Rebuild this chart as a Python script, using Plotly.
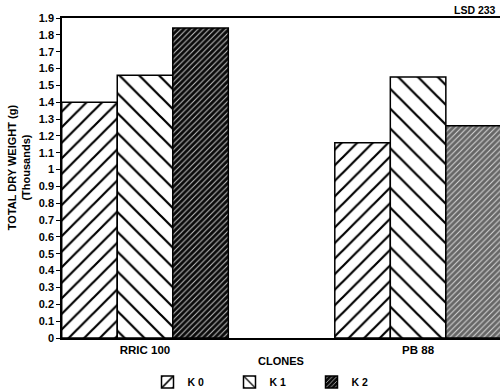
import plotly.graph_objects as go

clones = ["RRIC 100", "PB 88"]
k0 = [1.40, 1.16]
k1 = [1.56, 1.55]
k2 = [1.84, 1.26]
series_names = ["K 0", "K 1", "K 2"]
y_ticks = [0, 0.1, 0.2, 0.3, 0.4, 0.5, 0.6, 0.7, 0.8, 0.9, 1.0,
           1.1, 1.2, 1.3, 1.4, 1.5, 1.6, 1.7, 1.8, 1.9]
y_tick_labels = ["0", "0.1", "0.2", "0.3", "0.4", "0.5", "0.6", "0.7", "0.8", "0.9", "1",
                 "1.1", "1.2", "1.3", "1.4", "1.5", "1.6", "1.7", "1.8", "1.9"]

FONT = "Liberation Sans"
BOLD = dict(family=FONT, color="black", weight="bold")

fig = go.Figure()
fig.add_trace(go.Bar(
    x=clones, y=k0, name=series_names[0],
    marker=dict(color="white", line=dict(color="black", width=1.5),
                pattern=dict(shape="/", fgcolor="black", bgcolor="white", fgopacity=1,
                             size=11, solidity=0.2, fillmode="overlay")),
))
fig.add_trace(go.Bar(
    x=clones, y=k1, name=series_names[1],
    marker=dict(color="white", line=dict(color="black", width=1.5),
                pattern=dict(shape="\\", fgcolor="black", bgcolor="white", fgopacity=1,
                             size=14, solidity=0.16, fillmode="overlay")),
))
fig.add_trace(go.Bar(
    x=clones, y=k2, name=series_names[2],
    marker=dict(color="black", line=dict(color="black", width=1.5),
                pattern=dict(shape="/", fgcolor="white", bgcolor=["#0a0a0a", "#666666"],
                             fgopacity=0.75, size=4, solidity=0.25, fillmode="overlay")),
))

fig.update_layout(
    width=500, height=391,
    margin=dict(l=62, r=0, t=18, b=53),
    paper_bgcolor="white", plot_bgcolor="white",
    barmode="group", bargap=0.39, bargroupgap=0,
    font=dict(family=FONT, color="black", size=10),
    showlegend=True,
    legend=dict(orientation="h", x=0.295, xref="container", y=0.023, yref="container",
                xanchor="left", yanchor="middle",
                font=dict(size=10.5, **BOLD),
                entrywidth=37, entrywidthmode="pixels", itemwidth=30,
                traceorder="normal", bgcolor="rgba(0,0,0,0)"),
    xaxis=dict(range=[-0.304, 1.30], showline=True, linecolor="black", linewidth=1.5,
               mirror=True, ticks="", showgrid=False, zeroline=False, automargin=False,
               tickfont=dict(size=11.5, **BOLD),
               title=dict(text="CLONES", font=dict(size=11, **BOLD), standoff=3)),
    yaxis=dict(range=[0, 1.9], tickvals=y_ticks, ticktext=y_tick_labels,
               showline=True, linecolor="black", linewidth=1.5, ticks="outside",
               ticklen=4, tickwidth=1.2, tickcolor="black", showgrid=False, zeroline=False,
               automargin=False, tickfont=dict(size=11, **BOLD)),
)

fig.add_annotation(text="TOTAL DRY WEIGHT (g)<br>(Thousands)", xref="paper", yref="paper",
                   x=-0.098, y=0.534, xanchor="center", yanchor="middle", textangle=-90,
                   showarrow=False, font=dict(size=11, **BOLD))

fig.add_annotation(text="LSD 233", xref="paper", yref="paper", x=0.891, y=1.0,
                   xanchor="left", yanchor="bottom", showarrow=False,
                   font=dict(size=10.5, **BOLD))

fig.write_html("out.html", config={"displayModeBar": False},
               post_script="document.body.style.margin='0';document.body.style.overflow='hidden';")
